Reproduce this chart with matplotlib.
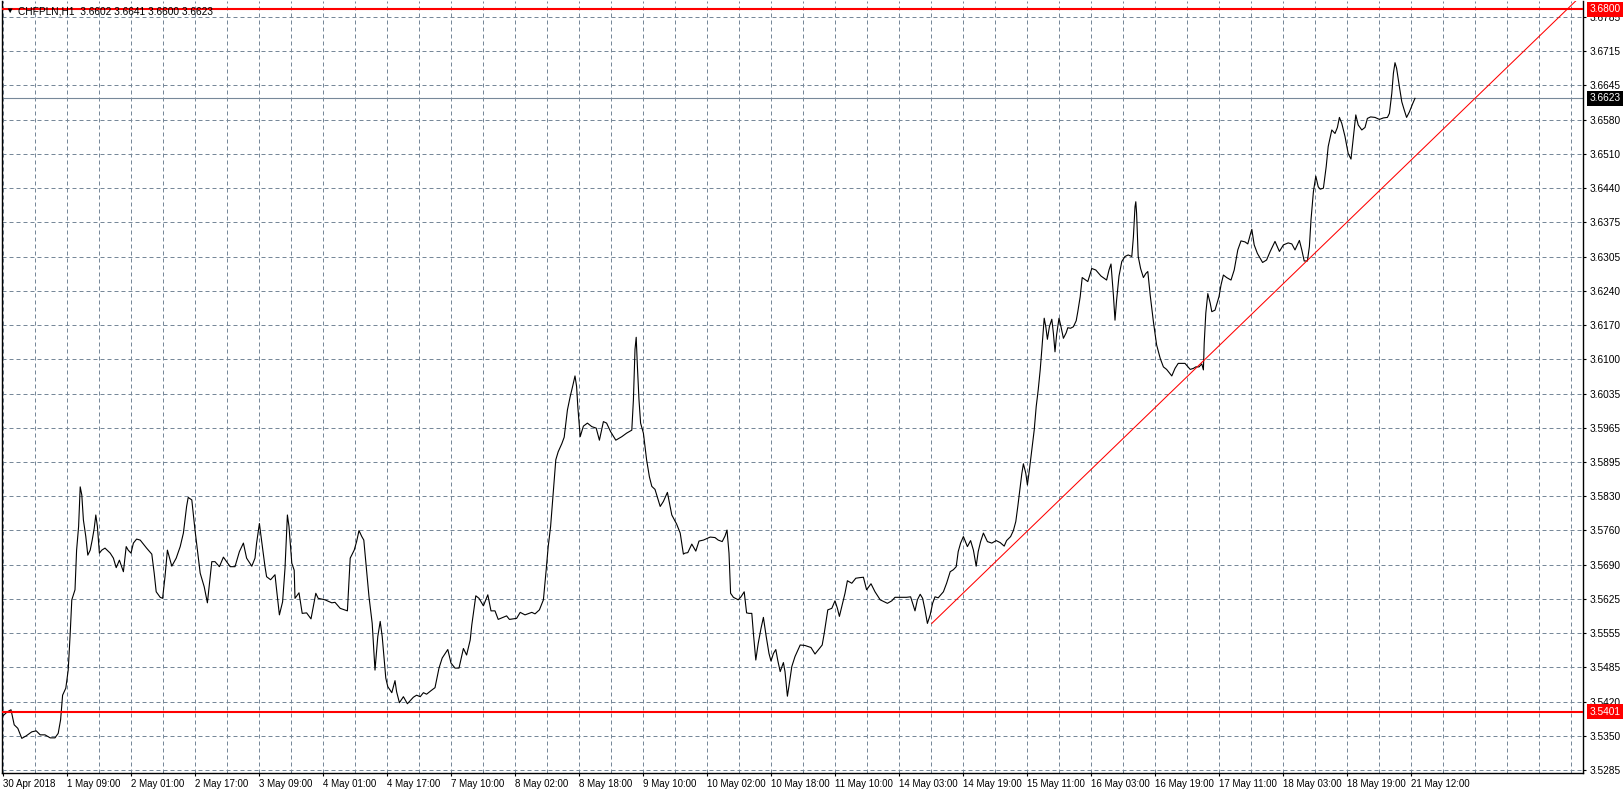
import numpy as np
import matplotlib.pyplot as plt
import matplotlib.transforms as mtransforms

# -----------------------------------------
# Data (CHFPLN H1 closes)
# -----------------------------------------

# bar number counted from 30 Apr 2018 17:00 (one bar = one hour of trading)
bar_idx = [
    0.0, 1.1, 2.0, 2.8, 3.7, 4.7, 5.8, 7.2, 8.3, 9.3, 10.5, 11.8, 13.0, 13.8, 14.4, 14.9,
    15.7, 16.3, 16.8, 17.2, 18.0, 18.4, 18.9, 19.3, 19.7, 20.1, 20.7, 21.2, 21.8, 22.3,
    22.8, 23.2, 23.6, 24.1, 24.7, 25.5, 26.8, 27.6, 28.3, 29.1, 30.1, 30.8, 31.3, 32.0,
    32.6, 33.4, 34.3, 35.9, 37.2, 37.8, 38.3, 39.3, 39.9, 40.5, 41.1, 42.2, 43.3, 44.3,
    45.1, 45.9, 46.3, 47.2, 48.0, 49.3, 50.3, 51.1, 52.2, 53.0, 54.1, 55.1, 55.9, 56.8,
    58.0, 59.1, 60.1, 60.9, 62.2, 63.0, 63.4, 64.1, 64.4, 65.5, 65.9, 66.9, 68.0, 68.4,
    69.1, 69.9, 70.5, 71.1, 71.5, 72.2, 72.8,
    73.0, 74.0, 74.8, 75.9, 77.0, 78.2, 78.8, 80.5, 82.2, 83.0, 84.3, 86.1, 86.8, 87.8,
    88.4, 89.0, 89.7, 90.2, 90.8, 91.5, 92.3, 93.0, 93.7, 94.3, 94.8, 95.7, 96.2, 97.2,
    98.0, 98.4, 99.1, 100.1, 101.1, 102.6, 103.4, 104.3, 105.1, 105.9, 107.0, 108.0,
    109.0, 109.8, 111.2, 112.0, 113.0, 114.0, 115.1, 115.9, 116.8, 117.2, 118.2, 119.0,
    120.1, 121.2, 122.0, 123.0,
    123.8, 125.9, 126.6, 128.4, 129.3, 130.5, 132.2, 133.0, 134.1, 135.1, 135.8, 136.3,
    136.9, 137.6, 138.2, 138.8, 139.7, 140.3, 141.1, 141.8, 142.4, 143.0, 143.4, 143.7,
    144.3, 145.1, 146.1, 147.2, 148.3, 149.1, 150.1, 150.9, 151.9, 153.2, 154.7, 155.9,
    157.2, 157.6, 158.0, 158.3, 158.6, 159.0, 159.4, 160.1, 160.9, 161.6, 162.2, 163.0,
    164.3, 165.1, 166.1, 167.2, 168.4, 169.3, 170.1,
    170.5, 171.2, 172.2, 173.2, 174.0, 175.1, 176.8, 178.0, 178.8, 179.8, 180.5, 181.0,
    181.5, 181.9, 182.6, 183.8, 184.5, 185.3, 185.9, 186.5, 187.2, 187.6, 188.2, 188.8,
    189.5, 190.1, 190.8, 191.5, 192.0, 192.6, 193.2, 193.7, 194.3, 195.1, 195.5, 196.1,
    196.6, 197.2, 198.0, 199.3, 200.5, 202.0, 203.0, 203.8, 204.8, 205.3, 206.2, 207.2,
    208.0, 208.6, 209.1, 209.8, 210.5, 211.1, 212.2, 213.2, 214.0, 215.1, 215.9, 217.0,
    218.0, 219.3,
    221.1, 222.2, 223.0, 224.7, 225.9, 226.9, 227.4, 228.0, 228.6, 229.3, 229.9, 230.5,
    231.1, 231.8, 232.4, 233.0, 233.8, 235.1, 235.9, 236.8, 237.6, 238.3, 238.8, 239.4,
    240.1, 241.1, 241.9, 242.6, 243.3, 243.8, 244.4, 245.1, 246.1, 247.2, 248.3, 249.3,
    250.3, 250.9, 251.9, 252.6, 253.2, 253.7, 254.3, 254.7, 255.1, 255.7, 256.1, 256.6,
    257.2, 257.8, 258.3, 258.8, 259.3, 259.7, 260.3, 260.7, 261.1, 261.6, 262.2, 262.6,
    263.0, 263.4, 264.0, 264.5, 265.1, 265.8, 266.2, 266.9, 267.6, 268.3, 268.7, 269.3,
    269.8, 270.5, 271.2, 272.2, 273.2, 274.5, 275.9, 276.5, 277.0, 277.6, 278.0, 278.4,
    279.0, 279.7, 280.5, 281.3, 282.2, 282.6, 283.0, 283.2, 283.4, 283.8, 284.4, 285.1,
    285.7, 286.2, 286.8, 287.6, 288.4, 289.3, 290.1, 290.9, 292.2, 293.0, 293.8, 295.5,
    296.8, 297.6, 298.2, 299.0, 299.7, 300.1, 300.3, 300.7, 301.2, 301.8, 302.2, 303.0,
    304.0, 304.5, 305.1, 305.9, 307.0, 307.8, 308.7, 309.5, 310.5, 311.2, 311.8, 312.2,
    312.8, 313.6, 314.9, 315.9, 316.8, 318.0, 319.1, 320.1, 321.3, 322.2, 323.0, 324.1,
    324.7, 325.3, 326.1, 326.6, 327.0, 327.6, 328.2, 328.8, 329.3, 330.1, 330.8, 331.3,
    332.2, 333.0, 333.6, 334.1, 334.7, 335.5, 336.3, 337.0, 337.6, 338.2, 338.8, 339.7,
    340.5, 341.1, 341.9, 343.0, 344.1, 345.1, 346.1, 346.6, 347.2, 347.6, 348.0, 348.4,
    349.1, 349.7, 350.3, 350.9, 351.6, 352.4, 353.0,
]

close = [
    3.5393, 3.5401, 3.5405, 3.5375, 3.5368, 3.5348, 3.5353, 3.5361, 3.5363, 3.5355, 3.5355,
    3.5349, 3.5349, 3.5358, 3.5385, 3.5434, 3.5448, 3.5484, 3.5557, 3.5624, 3.5644, 3.5723,
    3.5770, 3.5849, 3.5833, 3.5783, 3.5750, 3.5713, 3.5723, 3.5743, 3.5766, 3.5793, 3.5770,
    3.5717, 3.5723, 3.5727, 3.5717, 3.5707, 3.5688, 3.5703, 3.5680, 3.5730, 3.5723, 3.5717,
    3.5737, 3.5745, 3.5743, 3.5727, 3.5715, 3.5677, 3.5640, 3.5629, 3.5627, 3.5670, 3.5723,
    3.5691, 3.5707, 3.5730, 3.5757, 3.5810, 3.5828, 3.5823, 3.5763, 3.5677, 3.5650, 3.5618,
    3.5700, 3.5700, 3.5690, 3.5709, 3.5700, 3.5690, 3.5690, 3.5720, 3.5737, 3.5707, 3.5691,
    3.5707, 3.5737, 3.5776, 3.5757, 3.5690, 3.5670, 3.5664, 3.5674, 3.5644, 3.5594, 3.5620,
    3.5687, 3.5793, 3.5770, 3.5697, 3.5683,
    3.5627, 3.5638, 3.5597, 3.5598, 3.5586, 3.5637, 3.5627, 3.5624, 3.5618, 3.5619, 3.5607,
    3.5602, 3.5707, 3.5723, 3.5740, 3.5762, 3.5750, 3.5743, 3.5690, 3.5630, 3.5577, 3.5484,
    3.5551, 3.5581, 3.5551, 3.5468, 3.5451, 3.5439, 3.5463, 3.5441, 3.5419, 3.5431, 3.5417,
    3.5430, 3.5434, 3.5431, 3.5439, 3.5436, 3.5443, 3.5449, 3.5488, 3.5508, 3.5525, 3.5498,
    3.5488, 3.5488, 3.5527, 3.5514, 3.5544, 3.5574, 3.5632, 3.5627, 3.5612, 3.5634, 3.5602,
    3.5602,
    3.5585, 3.5592, 3.5585, 3.5587, 3.5599, 3.5594, 3.5599, 3.5596, 3.5604, 3.5624, 3.5684,
    3.5730, 3.5770, 3.5843, 3.5903, 3.5919, 3.5935, 3.5948, 3.6002, 3.6029, 3.6049, 3.6070,
    3.6049, 3.6009, 3.5949, 3.5970, 3.5976, 3.5969, 3.5966, 3.5942, 3.5979, 3.5976, 3.5959,
    3.5942, 3.5949, 3.5956, 3.5962, 3.6022, 3.6123, 3.6147, 3.6089, 3.6022, 3.5976, 3.5956,
    3.5903, 3.5869, 3.5850, 3.5844, 3.5810, 3.5820, 3.5838, 3.5793, 3.5775, 3.5757, 3.5715,
    3.5717, 3.5718, 3.5735, 3.5721, 3.5741, 3.5743, 3.5749, 3.5748, 3.5743, 3.5740, 3.5751,
    3.5763, 3.5717, 3.5637, 3.5629, 3.5624, 3.5630, 3.5640, 3.5598, 3.5597, 3.5597, 3.5557,
    3.5504, 3.5537, 3.5567, 3.5589, 3.5551, 3.5517, 3.5502, 3.5517, 3.5525, 3.5503, 3.5481,
    3.5499, 3.5481, 3.5432, 3.5458, 3.5491, 3.5511, 3.5534, 3.5533, 3.5529, 3.5516, 3.5524,
    3.5534, 3.5557, 3.5604, 3.5607, 3.5622, 3.5607, 3.5591, 3.5614, 3.5637, 3.5662, 3.5657,
    3.5667, 3.5668, 3.5669, 3.5644, 3.5656, 3.5640, 3.5624,
    3.5617, 3.5622, 3.5629, 3.5629, 3.5629, 3.5630, 3.5617, 3.5602, 3.5624, 3.5635, 3.5627,
    3.5604, 3.5577, 3.5594, 3.5617, 3.5630, 3.5628, 3.5640, 3.5657, 3.5680, 3.5684, 3.5690,
    3.5720, 3.5737, 3.5750, 3.5730, 3.5742, 3.5723, 3.5691, 3.5720, 3.5740, 3.5757, 3.5740,
    3.5737, 3.5742, 3.5738, 3.5731, 3.5742, 3.5750, 3.5762, 3.5780, 3.5810, 3.5850, 3.5875,
    3.5895, 3.5876, 3.5853, 3.5883, 3.5922, 3.5962, 3.6009, 3.6042, 3.6082, 3.6122, 3.6185,
    3.6168, 3.6143, 3.6168, 3.6183, 3.6155, 3.6118, 3.6152, 3.6185, 3.6168, 3.6145, 3.6156,
    3.6166, 3.6165, 3.6168, 3.6180, 3.6198, 3.6228,
    3.6266, 3.6262, 3.6258, 3.6284, 3.6281, 3.6269, 3.6261, 3.6281, 3.6293, 3.6231, 3.6181,
    3.6221, 3.6269, 3.6298, 3.6308, 3.6311, 3.6308, 3.6347, 3.6407, 3.6417, 3.6394, 3.6308,
    3.6284, 3.6266, 3.6274, 3.6278, 3.6231, 3.6178, 3.6132, 3.6105, 3.6088, 3.6083, 3.6070,
    3.6085, 3.6095, 3.6095, 3.6083, 3.6085, 3.6088, 3.6088, 3.6094, 3.6082, 3.6135, 3.6195,
    3.6234, 3.6215, 3.6198, 3.6201, 3.6228, 3.6251, 3.6271, 3.6266, 3.6261, 3.6281, 3.6321,
    3.6339, 3.6337, 3.6333, 3.6351, 3.6362,
    3.6331, 3.6314, 3.6296, 3.6301, 3.6318, 3.6338, 3.6318, 3.6331, 3.6335, 3.6333, 3.6321,
    3.6340, 3.6321, 3.6299, 3.6299, 3.6328, 3.6381, 3.6437, 3.6468, 3.6447, 3.6442, 3.6444,
    3.6487, 3.6527, 3.6560, 3.6553, 3.6565, 3.6585, 3.6573, 3.6547, 3.6513, 3.6502, 3.6547,
    3.6590, 3.6570, 3.6560, 3.6565, 3.6583, 3.6586, 3.6585, 3.6581, 3.6584, 3.6585, 3.6593,
    3.6633, 3.6673, 3.6694, 3.6683, 3.6646, 3.6616, 3.6600, 3.6585, 3.6596, 3.6612, 3.6623,
]

time_labels = [
    "30 Apr 2018", "1 May 09:00", "2 May 01:00", "2 May 17:00", "3 May 09:00",
    "4 May 01:00", "4 May 17:00", "7 May 10:00", "8 May 02:00", "8 May 18:00",
    "9 May 10:00", "10 May 02:00", "10 May 18:00", "11 May 10:00", "14 May 03:00",
    "14 May 19:00", "15 May 11:00", "16 May 03:00", "16 May 19:00", "17 May 11:00",
    "18 May 03:00", "18 May 19:00", "21 May 12:00",
]

price_labels = [
    "3.5285", "3.5350", "3.5420", "3.5485", "3.5555", "3.5625", "3.5690", "3.5760",
    "3.5830", "3.5895", "3.5965", "3.6035", "3.6100", "3.6170", "3.6240", "3.6305",
    "3.6375", "3.6440", "3.6510", "3.6580", "3.6645", "3.6715", "3.6785",
]

price_low = 3.5285
price_high = 3.6785

level_top = 3.6800
level_bottom = 3.5401
last_price = 3.6623

# trend line anchors (bar, price)
trend_a = (232.2, 3.5577)
trend_b = (300.1, 3.6100)

header = "CHFPLN,H1  3.6602 3.6641 3.6600 3.6623"

# -----------------------------------------
# Style
# -----------------------------------------

plt.rcParams["font.family"] = ["Liberation Sans", "DejaVu Sans"]
plt.rcParams["font.size"] = 7.3

grid_color = "#778899"
W, H = 1623, 794

fig = plt.figure(figsize=(W / 100, H / 100), dpi=100)
ax = fig.add_axes([2 / W, 21 / H, 1581 / W, 772 / H])

ax.set_xlim(-0.25, 395)
ax.set_ylim(3.52790, 3.68169)

# -----------------------------------------
# Grid
# -----------------------------------------

price_ticks = np.linspace(price_low, price_high, len(price_labels))

for b in range(0, 395, 8):
    ax.axvline(b, color=grid_color, lw=0.72, ls=(0, (4, 3)), zorder=1)

for p in price_ticks:
    ax.axhline(p, color=grid_color, lw=0.72, ls=(0, (4, 3)), zorder=1)

# -----------------------------------------
# Lines
# -----------------------------------------

ax.axhline(last_price, color=grid_color, lw=0.8, zorder=2)

ax.plot(bar_idx, close, color="black", lw=0.8, zorder=3)

ax.axhline(level_top, color="red", lw=1.5, zorder=4)
ax.axhline(level_bottom, color="red", lw=1.5, zorder=4)

slope = (trend_b[1] - trend_a[1]) / (trend_b[0] - trend_a[0])
x_end = 395
ax.plot([trend_a[0], x_end],
        [trend_a[1], trend_a[1] + slope * (x_end - trend_a[0])],
        color="red", lw=0.75, zorder=4)

# -----------------------------------------
# Axes
# -----------------------------------------

ax.set_xticks(np.arange(len(time_labels)) * 16)
ax.set_xticklabels(time_labels, ha="left", fontsize=7)

ax.yaxis.tick_right()
ax.set_yticks(price_ticks)
ax.set_yticklabels(price_labels)

ax.tick_params(axis="x", direction="out", length=2.5, width=0.8, pad=1.5)
ax.tick_params(axis="y", direction="out", length=2.5, width=0.8, pad=2)

for side in ["left", "bottom", "right"]:
    ax.spines[side].set_color("black")
    ax.spines[side].set_linewidth(1.0)
ax.spines["top"].set_visible(False)

# -----------------------------------------
# Price tags on the right scale
# -----------------------------------------

trans = mtransforms.blended_transform_factory(ax.transAxes, ax.transData)

for value, face in [(level_top, "red"), (level_bottom, "red"), (last_price, "black")]:
    ax.text(1.0040, value, f"{value:.4f}", transform=trans,
            color="white", ha="left", va="center", zorder=6, clip_on=False,
            bbox=dict(boxstyle="square,pad=0.25", fc=face, ec="none"))

# -----------------------------------------
# Header
# -----------------------------------------

fig.text(5 / W, 1 - 11 / H, "\u25bc", fontsize=6, va="center", ha="left")
fig.text(18 / W, 1 - 11 / H, header, fontsize=7.3, va="center", ha="left")

fig.savefig("out.png", dpi=100, facecolor="white")
